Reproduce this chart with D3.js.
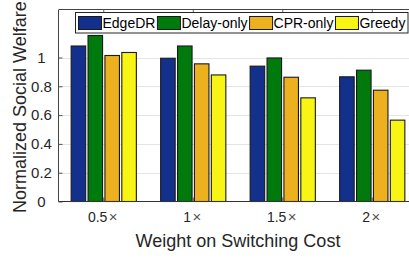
<!DOCTYPE html>
<html>
<head>
<meta charset="utf-8">
<script src="https://cdn.jsdelivr.net/npm/d3@7"></script>
<style>
	body { margin: 0; background: #fff; }
	svg { display: block; font-family: "Liberation Sans", Arial, sans-serif; }
</style>
</head>
<body>
<script>
// data
var categories = ["0.5", "1", "1.5", "2"];
var seriesNames = ["EdgeDR", "Delay-only", "CPR-only", "Greedy"];
var edgeDR = [1.08, 0.995, 0.94, 0.866];
var delayOnly = [1.153, 1.08, 0.997, 0.912];
var cprOnly = [1.014, 0.956, 0.863, 0.773];
var greedy = [1.035, 0.879, 0.72, 0.565];
var yTicks = [0, 0.2, 0.4, 0.6, 0.8, 1];
var yTickLabels = ["0", "0.2", "0.4", "0.6", "0.8", "1"];

window.onload = function () {
	var seriesValues = [edgeDR, delayOnly, cprOnly, greedy];
	var colors = ["#13308c", "#007a0c", "#edb120", "#f8f414"];

	var width = 409, height = 259;
	var margin = {top: 10, left: 59, bottom: 201.5};
	var spacing = 89.5;

	var svg = d3.select("body").append("svg")
		.attr("width", width)
		.attr("height", height);

	// scales
	var xscale = d3.scaleBand()
		.domain(categories)
		.range([margin.left, margin.left + spacing * categories.length]);

	var inner = d3.scaleBand()
		.domain(seriesNames)
		.range([-32.6, 32.6])
		.paddingInner(0.14);

	var yscale = d3.scaleLinear()
		.domain([0, 1.33])
		.range([margin.bottom, margin.top]);

	// grid lines
	svg.append("g")
		.selectAll("line")
		.data(yTicks.slice(1))
		.enter().append("line")
		.attr("x1", margin.left)
		.attr("x2", width)
		.attr("y1", function (d) { return Math.round(yscale(d)) + 0.5; })
		.attr("y2", function (d) { return Math.round(yscale(d)) + 0.5; })
		.style("stroke", "#e4e4e4")
		.style("stroke-width", 1);

	// y axis
	var yaxis = d3.axisLeft(yscale)
		.tickValues(yTicks)
		.tickSize(-4)
		.tickFormat(function (d, i) { return yTickLabels[i]; });
	var gy = svg.append("g")
		.attr("transform", "translate(" + (margin.left - 0.5) + ",0)")
		.call(yaxis);
	gy.select(".domain").remove();
	gy.selectAll(".tick line").style("stroke", "#555");
	gy.selectAll(".tick text")
		.attr("x", -17)
		.attr("text-anchor", "middle")
		.style("font-size", "15px")
		.style("fill", "#262626")
		.style("font-family", "Liberation Sans, Arial, sans-serif");

	// bottom x ticks
	svg.append("g")
		.selectAll("line")
		.data(categories)
		.enter().append("line")
		.attr("x1", function (d) { return xscale(d) + xscale.bandwidth() / 2; })
		.attr("x2", function (d) { return xscale(d) + xscale.bandwidth() / 2; })
		.attr("y1", margin.bottom - 4)
		.attr("y2", margin.bottom)
		.style("stroke", "#666");

	// top x ticks
	svg.append("g")
		.selectAll("line")
		.data(categories)
		.enter().append("line")
		.attr("x1", function (d) { return xscale(d) + xscale.bandwidth() / 2; })
		.attr("x2", function (d) { return xscale(d) + xscale.bandwidth() / 2; })
		.attr("y1", margin.top)
		.attr("y2", margin.top + 4)
		.style("stroke", "#666");

	// bars
	for (var s = 0; s < seriesNames.length; s++) {
		svg.append("g")
			.selectAll("rect")
			.data(seriesValues[s])
			.enter().append("rect")
			.attr("x", function (d, i) { return xscale(categories[i]) + xscale.bandwidth() / 2 + inner(seriesNames[s]); })
			.attr("y", function (d) { return yscale(d); })
			.attr("width", inner.bandwidth())
			.attr("height", function (d) { return yscale(0) - yscale(d); })
			.style("fill", colors[s])
			.style("stroke", "#1a1a1a")
			.style("stroke-width", 1.1);
	}

	// axis box lines
	svg.append("line")
		.attr("x1", margin.left - 0.5).attr("x2", margin.left - 0.5)
		.attr("y1", margin.top).attr("y2", margin.bottom)
		.style("stroke", "#444");
	svg.append("line")
		.attr("x1", margin.left - 0.5).attr("x2", width)
		.attr("y1", margin.bottom).attr("y2", margin.bottom)
		.style("stroke", "#333");
	svg.append("line")
		.attr("x1", margin.left - 0.5).attr("x2", width)
		.attr("y1", margin.top - 0.5).attr("y2", margin.top - 0.5)
		.style("stroke", "#444");

	// x tick labels
	var xlabels = svg.append("g")
		.selectAll("text")
		.data(categories)
		.enter().append("text")
		.attr("x", function (d) { return xscale(d) + xscale.bandwidth() / 2 - 1; })
		.attr("y", 222)
		.attr("text-anchor", "middle")
		.style("font-size", "14px")
		.style("fill", "#262626");
	xlabels.append("tspan").text(function (d) { return d; });
	xlabels.append("tspan")
		.attr("dx", 1.5)
		.style("fill", "#555")
		.style("font-size", "15px")
		.text("\u00d7");

	// axis titles
	svg.append("text")
		.attr("x", 238)
		.attr("y", 246.5)
		.attr("text-anchor", "middle")
		.style("font-size", "18px")
		.style("fill", "#262626")
		.text("Weight on Switching Cost");

	svg.append("text")
		.attr("transform", "translate(25.5,213) rotate(-90)")
		.attr("text-anchor", "start")
		.style("font-size", "18px")
		.style("fill", "#262626")
		.text("Normalized Social Welfare");

	// legend
	var legend = svg.append("g");
	legend.append("rect")
		.attr("x", 75.5)
		.attr("y", 12.5)
		.attr("width", 332.5)
		.attr("height", 20.5)
		.style("fill", "#fff")
		.style("stroke", "#262626");

	var lx = 78.5;
	for (var k = 0; k < seriesNames.length; k++) {
		legend.append("rect")
			.attr("x", lx)
			.attr("y", 16.5)
			.attr("width", 23)
			.attr("height", 13)
			.style("fill", colors[k])
			.style("stroke", "#1a1a1a");
		var t = legend.append("text")
			.attr("x", lx + 24)
			.attr("y", 28)
			.style("font-size", "14px")
			.style("fill", "#000")
			.text(seriesNames[k]);
		lx = lx + 24 + t.node().getComputedTextLength() + 2;
	}
};
</script>
</body>
</html>
